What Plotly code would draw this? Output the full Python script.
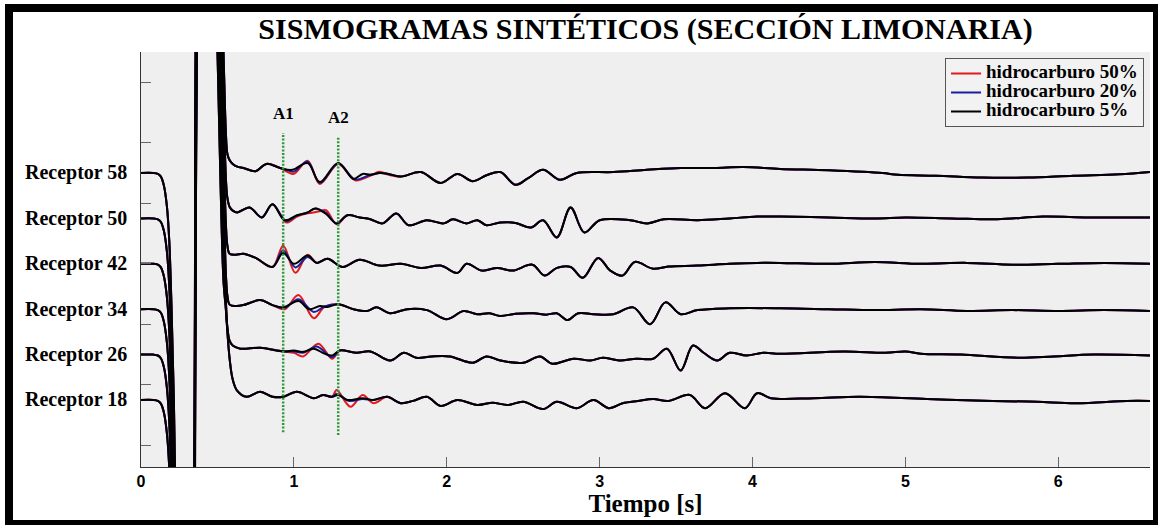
import plotly.graph_objects as go

# ---------------- data ----------------
receptor_names = ["Receptor 58", "Receptor 50", "Receptor 42", "Receptor 34", "Receptor 26", "Receptor 18"]
receptor_offsets = [6, 5, 4, 3, 2, 1]
series_names = ["hidrocarburo 50%", "hidrocarburo 20%", "hidrocarburo 5%"]
series_colors = ["#e3191c", "#1d1d9c", "#000000"]

x_tick_vals = [0, 1, 2, 3, 4, 5, 6]
y_tick_vals = [0, 4 / 3, 8 / 3, 4, 16 / 3, 20 / 3, 8]

marker_names = ["A1", "A2"]
marker_times = [0.93, 1.29]
marker_bottom = [0.29, 0.23]
marker_top = [6.88, 6.81]

# direct-wave onset shared by all receptors (time s, amplitude)
onset_t = [0.00, 0.08, 0.11, 0.13, 0.15, 0.17, 0.185, 0.20, 0.215, 0.23, 0.25, 0.29, 0.33, 0.345,
           0.375, 0.42, 0.47, 0.50, 0.52, 0.54]
onset_a = [0.0, 0.0, -0.02, -0.08, -0.28, -0.75, -1.5, -3.0, -5.0, -8.0, -11.0, -13.0, -12.0, -9.0,
           10.0, 14.0, 12.0, 7.7, 4.8, 2.6]

# ---- Receptor 58
tail58_t = [0.555, 0.565, 0.58, 0.60, 0.63]
tail58_a = [0.9, 0.42, 0.28, 0.2, 0.14]
coda58_t = [0.67, 0.75, 0.82, 0.91, 0.99, 1.09, 1.17, 1.29, 1.39, 1.45, 1.50, 1.56, 1.62, 1.70, 1.83, 1.96,
            2.07, 2.17, 2.26, 2.35, 2.45, 2.53, 2.63, 2.74, 2.85, 3.09, 3.31, 3.53, 3.75, 3.94, 4.18, 4.5,
            4.85, 4.95, 5.2, 5.5, 5.8, 6.1, 6.4, 6.6]
coda58_a = [0.11, 0.04, 0.2, 0.11, 0.07, 0.22, -0.2, 0.22, -0.13, -0.02, -0.04, 0.0, -0.02, -0.08, 0.02, -0.22,
            -0.02, -0.18, -0.05, 0.02, -0.26, -0.12, 0.07, -0.15, 0.0, 0.02, 0.07, 0.11, 0.11, 0.13, 0.09, 0.06,
            0.0, -0.04, -0.06, -0.1, -0.1, -0.06, -0.03, 0.02]
red58_t = [0.91, 0.96, 1.00, 1.09, 1.17, 1.29, 1.40, 1.50, 1.56, 1.62]
red58_a = [0.11, 0.02, -0.02, 0.27, -0.24, 0.2, -0.16, -0.06, 0.03, -0.04]
blue58_t = [0.91, 0.96, 1.00, 1.09, 1.17, 1.29, 1.40, 1.50, 1.56, 1.62]
blue58_a = [0.11, 0.06, 0.03, 0.25, -0.22, 0.21, -0.14, -0.04, 0.0, -0.02]

# ---- Receptor 50
tail50_t = [0.555, 0.565, 0.58, 0.60]
tail50_a = [0.9, 0.45, 0.25, 0.17]
coda50_t = [0.63, 0.71, 0.79, 0.86, 0.94, 1.02, 1.09, 1.14, 1.21, 1.28, 1.35, 1.43, 1.50, 1.58, 1.67, 1.75,
            1.87, 1.98, 2.04, 2.13, 2.20, 2.26, 2.35, 2.45, 2.55, 2.63, 2.72, 2.81, 2.90, 3.00, 3.20, 3.31,
            3.42, 3.64, 3.85, 4.03, 4.18, 4.5, 4.8, 5.0, 5.3, 5.6, 5.9, 6.2, 6.6]
coda50_a = [0.13, 0.24, 0.02, 0.31, -0.04, 0.07, 0.13, 0.22, 0.1, -0.11, 0.07, 0.02, -0.02, -0.11, 0.11, -0.15,
            -0.04, -0.11, -0.02, -0.11, -0.04, -0.15, -0.09, -0.1, -0.2, -0.04, -0.42, 0.24, -0.31, -0.04, -0.04, -0.11,
            -0.02, -0.04, 0.0, 0.04, 0.04, 0.02, 0.0, 0.02, 0.0, -0.02, 0.04, 0.02, 0.02]
red50_t = [0.79, 0.86, 0.95, 1.02, 1.09, 1.16, 1.21, 1.28, 1.35]
red50_a = [0.02, 0.31, -0.09, 0.04, 0.11, 0.15, 0.18, -0.13, 0.07]
blue50_t = [0.79, 0.86, 0.95, 1.02, 1.09, 1.14, 1.21, 1.28, 1.35]
blue50_a = [0.02, 0.31, -0.06, 0.06, 0.13, 0.22, 0.12, -0.11, 0.07]

# ---- Receptor 42
tail42_t = [0.555, 0.565, 0.58, 0.62]
tail42_a = [0.9, 0.4, 0.22, 0.2]
coda42_t = [0.67, 0.75, 0.86, 0.93, 1.00, 1.09, 1.15, 1.22, 1.32, 1.43, 1.56, 1.70, 1.83, 1.96, 2.07, 2.13,
            2.23, 2.33, 2.43, 2.56, 2.64, 2.72, 2.81, 2.89, 2.99, 3.07, 3.15, 3.23, 3.35, 3.45, 3.64, 3.85,
            4.03, 4.18, 4.5, 4.8, 5.1, 5.4, 5.7, 6.0, 6.3, 6.6]
coda42_a = [0.22, 0.13, -0.07, 0.24, 0.0, 0.18, 0.02, 0.11, -0.07, 0.09, -0.04, 0.0, -0.09, -0.04, -0.2, 0.0,
            -0.15, -0.09, -0.15, -0.02, -0.26, -0.09, -0.07, -0.31, 0.13, -0.15, -0.26, 0.04, -0.11, -0.06, -0.04, 0.0,
            0.02, 0.02, 0.0, 0.04, 0.0, 0.02, -0.02, 0.0, 0.02, 0.0]
red42_t = [0.86, 0.93, 1.01, 1.09, 1.15]
red42_a = [-0.07, 0.40, -0.2, 0.2, 0.02]
blue42_t = [0.86, 0.93, 1.01, 1.09, 1.15]
blue42_a = [-0.07, 0.3, -0.08, 0.15, 0.02]

# ---- Receptor 34
tail34_t = [0.555, 0.565, 0.58, 0.62]
tail34_a = [0.8, 0.3, 0.1, 0.07]
coda34_t = [0.67, 0.78, 0.86, 0.93, 1.03, 1.10, 1.17, 1.22, 1.29, 1.39, 1.48, 1.54, 1.63, 1.74, 1.87, 2.00,
            2.11, 2.20, 2.28, 2.35, 2.45, 2.57, 2.65, 2.72, 2.79, 2.86, 2.96, 3.09, 3.22, 3.33, 3.43, 3.53,
            3.64, 3.85, 4.18, 4.5, 4.8, 5.1, 5.4, 5.7, 6.0, 6.3, 6.6]
coda34_a = [0.09, 0.2, 0.09, 0.04, 0.18, 0.0, 0.07, 0.05, 0.11, 0.0, -0.04, 0.04, -0.09, 0.0, -0.02, -0.22,
            -0.04, -0.11, -0.09, -0.15, -0.1, -0.09, -0.12, -0.09, -0.24, -0.09, -0.11, -0.11, 0.04, -0.33, 0.15, -0.11,
            -0.02, 0.02, 0.02, 0.0, -0.02, 0.0, -0.04, -0.02, -0.04, -0.02, -0.04]
red34_t = [0.86, 0.94, 1.03, 1.13, 1.20, 1.29]
red34_a = [0.09, 0.0, 0.31, -0.2, 0.05, 0.11]
blue34_t = [0.86, 0.94, 1.03, 1.13, 1.20, 1.29]
blue34_a = [0.09, 0.03, 0.22, -0.06, 0.06, 0.11]

# ---- Receptor 26
tail26_t = [0.555, 0.565, 0.58, 0.60]
tail26_a = [1.2, 0.6, 0.3, 0.2]
coda26_t = [0.65, 0.78, 0.93, 1.00, 1.06, 1.13, 1.20, 1.25, 1.30, 1.41, 1.50, 1.63, 1.72, 1.80, 1.90, 2.02,
            2.17, 2.26, 2.35, 2.50, 2.61, 2.69, 2.83, 2.94, 3.02, 3.13, 3.24, 3.35, 3.44, 3.53, 3.61, 3.68,
            3.77, 3.85, 3.96, 4.07, 4.18, 4.6, 4.87, 5.0, 5.1, 5.36, 5.74, 5.97, 6.23, 6.6]
coda26_a = [0.13, 0.15, 0.07, 0.09, 0.06, 0.13, 0.02, -0.02, 0.09, 0.04, 0.07, -0.13, 0.04, -0.07, -0.04, -0.04,
            -0.18, -0.04, -0.13, -0.18, -0.04, -0.2, -0.09, -0.13, -0.07, -0.13, -0.09, -0.09, 0.13, -0.35, 0.2, 0.04,
            -0.13, 0.04, -0.02, 0.04, 0.02, 0.07, 0.04, 0.07, 0.02, 0.0, -0.07, -0.04, 0.0, -0.02]
red26_t = [0.93, 1.00, 1.06, 1.16, 1.25, 1.30, 1.36, 1.41]
red26_a = [0.07, 0.04, -0.04, 0.24, -0.09, 0.09, 0.07, 0.04]
blue26_t = [0.93, 1.00, 1.06, 1.15, 1.25, 1.30]
blue26_a = [0.07, 0.07, 0.04, 0.18, -0.06, 0.09]

# ---- Receptor 18
tail18_t = [0.555, 0.565, 0.58, 0.60, 0.63]
tail18_a = [2.0, 1.5, 0.9, 0.45, 0.2]
coda18_t = [0.69, 0.78, 0.86, 0.93, 1.02, 1.13, 1.19, 1.25, 1.29, 1.35, 1.45, 1.52, 1.61, 1.70, 1.78, 1.87,
            1.96, 2.07, 2.20, 2.30, 2.40, 2.50, 2.63, 2.72, 2.85, 2.96, 3.06, 3.15, 3.25, 3.35, 3.45, 3.59,
            3.69, 3.82, 3.95, 4.03, 4.12, 4.4, 4.7, 5.14, 5.57, 5.86, 6.12, 6.45, 6.6]
coda18_a = [0.07, 0.18, 0.07, 0.07, 0.18, 0.04, 0.11, 0.07, 0.11, 0.0, 0.04, 0.0, 0.07, -0.07, -0.02, 0.07,
            -0.13, 0.0, -0.11, -0.06, -0.11, -0.04, -0.2, -0.04, -0.18, 0.0, -0.18, -0.07, -0.02, 0.02, -0.02, 0.11,
            -0.18, 0.15, -0.18, 0.15, 0.04, 0.04, 0.07, 0.02, -0.02, -0.04, -0.07, -0.02, -0.02]
red18_t = [1.19, 1.25, 1.28, 1.37, 1.45, 1.52, 1.61, 1.70]
red18_a = [0.11, 0.07, 0.22, -0.15, 0.11, -0.07, 0.07, -0.07]
blue18_t = [1.19, 1.25, 1.28, 1.36, 1.45, 1.52]
blue18_a = [0.11, 0.07, 0.14, -0.02, 0.02, 0.0]

tails = [(tail58_t, tail58_a), (tail50_t, tail50_a), (tail42_t, tail42_a),
         (tail34_t, tail34_a), (tail26_t, tail26_a), (tail18_t, tail18_a)]
codas = [(coda58_t, coda58_a), (coda50_t, coda50_a), (coda42_t, coda42_a),
         (coda34_t, coda34_a), (coda26_t, coda26_a), (coda18_t, coda18_a)]
red_windows = [(red58_t, red58_a), (red50_t, red50_a), (red42_t, red42_a),
               (red34_t, red34_a), (red26_t, red26_a), (red18_t, red18_a)]
blue_windows = [(blue58_t, blue58_a), (blue50_t, blue50_a), (blue42_t, blue42_a),
                (blue34_t, blue34_a), (blue26_t, blue26_a), (blue18_t, blue18_a)]


def build_trace(tail, coda, window=None):
    ct, ca = coda
    pts = list(zip(ct, ca))
    if window is not None:
        wt, wa = window
        pts = [p for p in pts if p[0] < wt[0] or p[0] > wt[-1]] + list(zip(wt, wa))
        pts.sort()
    t = list(onset_t) + list(tail[0]) + [p[0] for p in pts]
    a = list(onset_a) + list(tail[1]) + [p[1] for p in pts]
    return t, a


# ---------------- figure ----------------
SERIF = "Liberation Serif"
SANS = "Liberation Sans"

fig = go.Figure()
variant_windows = [red_windows, blue_windows, None]
for s, (name, color) in enumerate(zip(series_names, series_colors)):
    for r, off in enumerate(receptor_offsets):
        win = variant_windows[s][r] if variant_windows[s] is not None else None
        t, a = build_trace(tails[r], codas[r], win)
        fig.add_trace(go.Scatter(
            x=t, y=[off + v for v in a], mode="lines",
            line=dict(color=color, width=2, shape="spline", smoothing=1.0),
            name="<span style='font-size:19px'>" + name + "</span>",
            legendgroup=name, showlegend=(r == 0),
            hoverinfo="skip",
        ))

W, H = 1161, 525
ML, MR, MT, MB = 141, 11, 52, 58
PW, PH = W - ML - MR, H - MT - MB


def px_x(px):
    return (px - ML) / PW


def px_y(py):
    return (H - MB - py) / PH


shapes = []
# green dotted markers A1, A2
for tm, y0, y1 in zip(marker_times, marker_bottom, marker_top):
    shapes.append(dict(type="line", xref="x", yref="y", x0=tm, x1=tm, y0=y0, y1=y1,
                       line=dict(color="#2f9a3a", width=2.5, dash="2px,1.6px"), layer="above"))
# black outer frame
frame_color = "#000000"
for (x0, x1, y0, y1) in [(5, 13, 4, 525), (5, 1158, 4, 12), (1153, 1158, 4, 525), (5, 1158, 520, 525)]:
    shapes.append(dict(type="rect", xref="paper", yref="paper",
                       x0=px_x(x0), x1=px_x(x1), y0=px_y(y1), y1=px_y(y0),
                       fillcolor=frame_color, line=dict(width=0), layer="above"))

annotations = []
for name, off in zip(receptor_names, receptor_offsets):
    annotations.append(dict(text=name, xref="paper", yref="y", x=px_x(129), y=off,
                            xanchor="right", yanchor="middle", showarrow=False,
                            font=dict(family=SERIF, size=20, color="#000", weight="bold")))
for name, tm, y1 in zip(marker_names, marker_times, marker_top):
    annotations.append(dict(text=name, xref="x", yref="y", x=tm, y=y1 + 0.42,
                            xanchor="center", yanchor="middle", showarrow=False,
                            font=dict(family=SERIF, size=17, color="#000", weight="bold")))

fig.update_layout(
    width=W, height=H,
    margin=dict(l=ML, r=MR, t=MT, b=MB, pad=0),
    paper_bgcolor="#ffffff",
    plot_bgcolor="#efefef",
    title=dict(text="SISMOGRAMAS SINTÉTICOS (SECCIÓN LIMONARIA)",
               font=dict(family=SERIF, size=30, color="#000", weight="bold"),
               x=0.5, xref="paper", xanchor="center",
               y=1 - 28.5 / H, yref="container", yanchor="middle"),
    xaxis=dict(range=[0, 6.6], tickvals=x_tick_vals, ticktext=[str(v) for v in x_tick_vals],
               ticks="inside", ticklen=10, tickcolor="#666", tickwidth=1,
               showline=True, linecolor="#333", linewidth=1, mirror=False,
               showgrid=False, zeroline=False,
               tickfont=dict(family=SANS, size=16, color="#000", weight="bold"),
               title=dict(text="Tiempo [s]", standoff=4,
                          font=dict(family=SERIF, size=25, color="#000", weight="bold"))),
    yaxis=dict(range=[-0.476, 8.665], tickvals=y_tick_vals, showticklabels=False,
               ticks="inside", ticklen=10, tickcolor="#666", tickwidth=1,
               showline=True, linecolor="#333", linewidth=1, mirror=False,
               showgrid=False, zeroline=False),
    legend=dict(x=px_x(1144), y=px_y(58), xanchor="right", yanchor="top",
                bgcolor="#f2f2f2", bordercolor="#555", borderwidth=1,
                font=dict(family=SERIF, size=12, color="#000", weight="bold"),
                tracegroupgap=0),
    shapes=shapes,
    annotations=annotations,
    showlegend=True,
)

fig.write_html("out.html",
               config={"displayModeBar": False},
               post_script="document.body.style.margin='0';document.body.style.padding='0';"
                           "document.body.style.overflow='hidden';")
